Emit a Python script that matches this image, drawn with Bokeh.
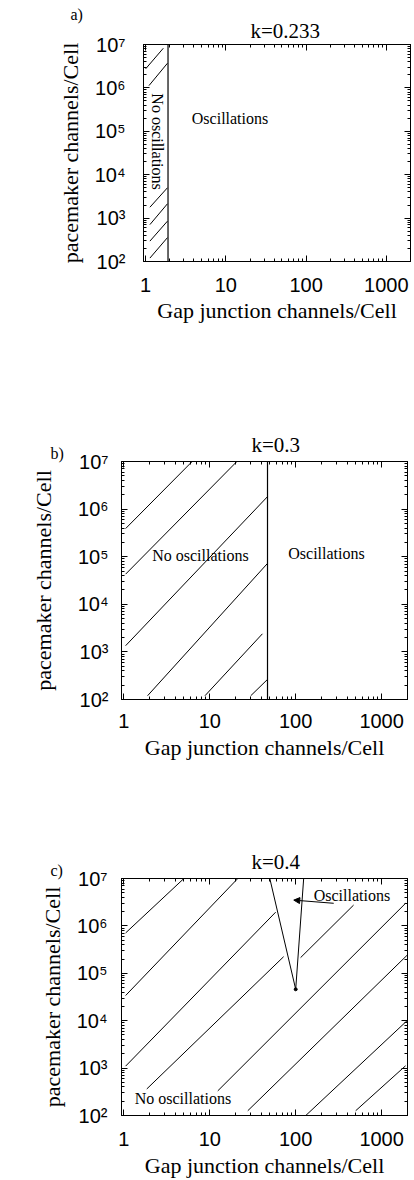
import math
from bokeh.plotting import figure
from bokeh.models import (Range1d, FixedTicker, LogAxis, ColumnDataSource, Arrow,
                          NormalHead, Title)
from bokeh.layouts import column
from bokeh.embed import file_html
from bokeh.resources import INLINE
from bokeh.core.properties import value

# ---------------- data ----------------
x_ticks = [1, 10, 100, 1000]
x_tick_labels = ["1", "10", "100", "1000"]
y_ticks = [100, 1000, 10000, 100000, 1000000, 10000000]
y_tick_labels = ["10²", "10³", "10⁴", "10⁵", "10⁶", "10⁷"]
x_minor = [2, 3, 4, 5, 6, 7, 8, 9, 20, 30, 40, 50, 60, 70, 80, 90,
           200, 300, 400, 500, 600, 700, 800, 900, 2000]
y_minor = [m * 10 ** d for d in range(2, 7) for m in range(2, 10)]

x_label = "Gap junction channels/Cell"
y_label = "pacemaker channels/Cell"

# panel a (k=0.233)
a_title = "k=0.233"
a_boundary_x = [1.9, 1.9]
a_boundary_y = [100, 10000000]
a_hatch_x0 = [1.0, 1.1, 1.13, 1.13, 1.13, 1.13]
a_hatch_y0 = [2.75e6, 1.13e6, 1.78e3, 708, 295, 120]
a_hatch_x1 = [1.66, 1.87, 1.87, 1.87, 1.87, 1.87]
a_hatch_y1 = [8.2e6, 3.7e6, 5.0e3, 2.14e3, 851, 355]
a_text = ["Oscillations"]
a_text_x = [3.76]
a_text_y = [2.0e5]
a_vtext = ["No oscillations"]
a_vtext_x = [1.4]
a_vtext_y = [5.8e4]

# panel b (k=0.3)
b_title = "k=0.3"
b_boundary_x = [47, 47]
b_boundary_y = [100, 10000000]
b_hatch_x0 = [1.05, 1.05, 1.05, 1.89, 8.8, 30]
b_hatch_y0 = [3.9e5, 4.3e4, 1.35e3, 120, 120, 120]
b_hatch_x1 = [6.24, 20.7, 46.9, 46.9, 41, 46.9]
b_hatch_y1 = [1e7, 1e7, 1.82e6, 7.2e4, 2.4e3, 263]
b_text = ["No oscillations", "Oscillations"]
b_text_x = [2.14, 82]
b_text_y = [1.07e5, 1.15e5]

# panel c (k=0.4)
c_title = "k=0.4"
c_boundary_x = [50, 100, 124]
c_boundary_y = [1e7, 4.6e4, 1.03e7]
c_apex_x = [100]
c_apex_y = [4.6e4]
c_hatch_x0 = [1.05, 1.05, 1.05, 1.85, 114, 12.4, 27.7, 131, 499]
c_hatch_y0 = [7.1e5, 3.4e4, 1.1e3, 363, 2.14e5, 331, 126, 100, 126]
c_hatch_x1 = [5.0, 21.2, 58.5, 72.4, 472, 1900, 2000, 2000, 1900]
c_hatch_y1 = [1e7, 1e7, 1.95e6, 2.24e5, 2.75e6, 3.0e6, 2.45e5, 1.02e4, 1.12e3]
c_text = ["Oscillations", "No oscillations"]
c_text_x = [162, 1.34]
c_text_y = [4.4e6, 229]
c_arrow_start = (277, 3.0e6)
c_arrow_end = (95, 3.5e6)

panel_tags = ["a)", "b)", "c)"]

SERIF = "Liberation Serif"
SANS = "Liberation Sans"
TITLE_FS = 21
TAG_FS = 16


def make_panel(height, ml, mr, mt, mb, ylab_standoff,
               ytick_standoff, xtick_standoff, xlab_standoff):
    p = figure(width=414, height=height, x_axis_type="log", y_axis_type="log",
               x_range=Range1d(0.94, 2000), y_range=Range1d(100, 1e7),
               output_backend="svg", toolbar_location=None,
               min_border_left=ml, min_border_right=mr,
               min_border_top=mt, min_border_bottom=mb)
    p.title_location = None
    p.frame_align = False
    p.grid.visible = False
    p.outline_line_color = "black"
    p.outline_line_width = 1
    p.background_fill_color = "white"
    p.border_fill_color = "white"

    xt = FixedTicker(ticks=x_ticks, minor_ticks=x_minor)
    yt = FixedTicker(ticks=y_ticks, minor_ticks=y_minor)

    xa = p.xaxis[0]
    xa.ticker = xt
    xa.major_label_overrides = dict(zip(x_ticks, x_tick_labels))
    xa.axis_label = x_label
    ya = p.yaxis[0]
    ya.ticker = yt
    ya.major_label_overrides = dict(zip(y_ticks, y_tick_labels))
    ya.axis_label = y_label

    for ax in (xa, ya):
        ax.major_tick_in = 6
        ax.major_tick_out = 0
        ax.minor_tick_in = 3
        ax.minor_tick_out = 0
        ax.axis_line_color = "black"
        ax.major_tick_line_color = "black"
        ax.minor_tick_line_color = "black"
        ax.major_label_text_font = SANS
        ax.major_label_text_font_size = "20px"
        ax.major_label_text_color = "black"
        ax.axis_label_text_font = SERIF
        ax.axis_label_text_font_size = "22px"
        ax.axis_label_text_font_style = "normal"
        ax.axis_label_text_color = "black"
    ya.major_label_standoff = ytick_standoff
    ya.axis_label_standoff = ylab_standoff
    xa.major_label_standoff = xtick_standoff
    xa.axis_label_standoff = xlab_standoff

    for side, tk in (("right", yt), ("above", xt)):
        ax = LogAxis(ticker=tk, major_tick_in=6, major_tick_out=0,
                     minor_tick_in=3, minor_tick_out=0,
                     major_label_text_font_size="1px", major_label_text_alpha=0,
                     major_label_standoff=0, axis_line_color="black")
        p.add_layout(ax, side)
    return p


def add_title(p, text, offset, fs, valign, standoff):
    p.add_layout(Title(text=text, align="left", offset=offset, standoff=standoff,
                       vertical_align=valign, text_font=SERIF,
                       text_font_size=f"{fs}px", text_font_style="normal",
                       text_color="black"), "above")


def collapsed(fs):
    # a title panel of (almost) zero height, its text centred on the panel edge
    return -(2 + 0.85 * fs)


def add_texts(p, texts, xs, ys, angle=0.0, align="left"):
    src = ColumnDataSource(dict(x=xs, y=ys, t=texts))
    p.text(x="x", y="y", text="t", source=src, angle=angle,
           text_font=value(SERIF), text_font_size="16px",
           text_align=align, text_baseline="middle", text_color="black")


# ---------------- panel a ----------------
pa = make_panel(380, 143, 4, 44, 119, 9, 18, 16, 3)
add_title(pa, a_title, 107, TITLE_FS, "bottom", 3)
add_title(pa, panel_tags[0], -73, TAG_FS, "middle", collapsed(TAG_FS))
pa.segment(a_hatch_x0, a_hatch_y0, a_hatch_x1, a_hatch_y1, line_color="black", line_width=1)
pa.line(a_boundary_x, a_boundary_y, line_color="black", line_width=1.2)
add_texts(pa, a_text, a_text_x, a_text_y)
add_texts(pa, a_vtext, a_vtext_x, a_vtext_y, angle=-math.pi / 2, align="center")

# ---------------- panel b ----------------
pb = make_panel(420, 121, 7, 81, 101, 19, 13, 14, 4)
add_title(pb, panel_tags[1], -71, TAG_FS, "top", -5)
add_title(pb, b_title, 130, TITLE_FS, "middle", collapsed(TITLE_FS))
pb.segment(b_hatch_x0, b_hatch_y0, b_hatch_x1, b_hatch_y1, line_color="black", line_width=1)
pb.line(b_boundary_x, b_boundary_y, line_color="black", line_width=1.2)
add_texts(pb, b_text, b_text_x, b_text_y)

# ---------------- panel c ----------------
pc = make_panel(380, 121, 7, 78, 63, 9, 14, 16, 4)
add_title(pc, panel_tags[2], -71, TAG_FS, "top", -5)
add_title(pc, c_title, 130, TITLE_FS, "middle", collapsed(TITLE_FS))
pc.segment(c_hatch_x0, c_hatch_y0, c_hatch_x1, c_hatch_y1, line_color="black", line_width=1)
pc.line(c_boundary_x, c_boundary_y, line_color="black", line_width=1)
pc.scatter(c_apex_x, c_apex_y, size=3, color="black")
pc.add_layout(Arrow(end=NormalHead(size=6, fill_color="black", line_color="black"),
                    x_start=c_arrow_start[0], y_start=c_arrow_start[1],
                    x_end=c_arrow_end[0], y_end=c_arrow_end[1],
                    line_color="black", line_width=1))
add_texts(pc, c_text, c_text_x, c_text_y)

layout = column(pa, pb, pc, spacing=0)
open("out.html", "w").write(file_html(layout, INLINE))
